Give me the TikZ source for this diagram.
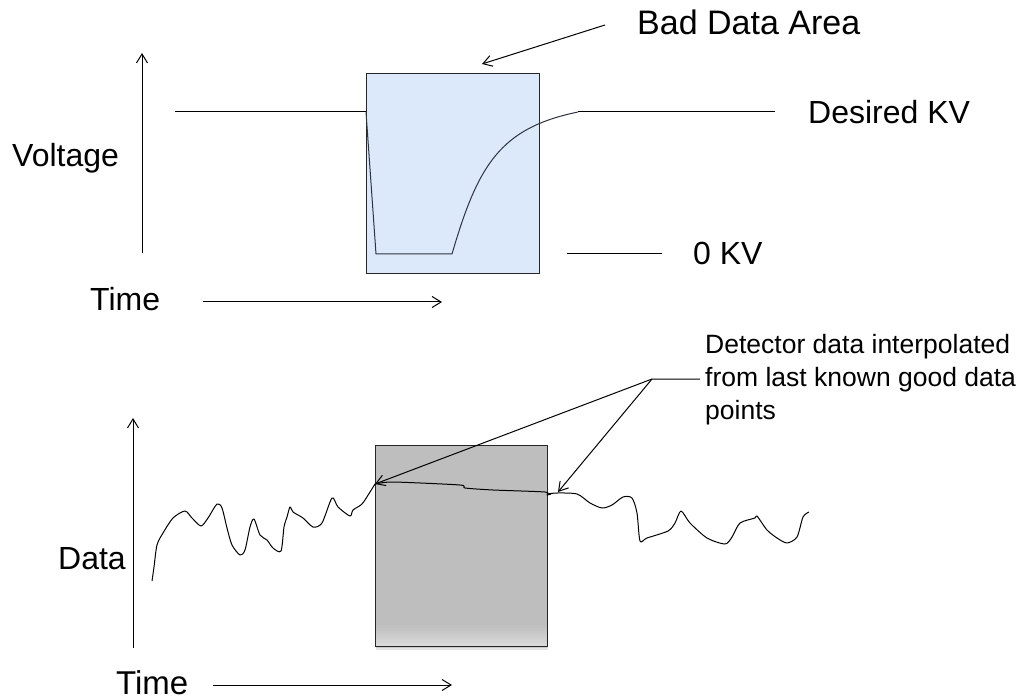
\documentclass[tikz,border=0pt]{standalone}
\usepackage{fontspec}
\setmainfont{Liberation Sans}
\usetikzlibrary{arrows.meta}
\definecolor{badblue}{RGB}{220,233,251}
\definecolor{badgray}{RGB}{190,190,190}
\definecolor{curvecol}{RGB}{45,52,64}
\tikzset{
  ln/.style={line width=1pt,black},
  arr/.style={ln,-{Straight Barb[length=9pt,width=11pt,line width=1pt]}},
  lbl/.style={inner sep=0pt,anchor=base west,font=\fontsize{32}{38}\selectfont},
  boxstyle/.style={draw=black!85,line width=1pt,inner sep=0pt,anchor=north west},
}
\begin{document}
\begin{tikzpicture}[x=1pt,y=-1pt]
\useasboundingbox (0,0) rectangle (1027,700);
% ---------------- top panel ----------------
\node[boxstyle,fill=badblue,minimum width=173pt,minimum height=200pt] (bad) at (366,73) {};
\node[lbl] (volt) at (12,167) {Voltage};
\node[lbl] (time1) at (90,311) {Time};
\node[lbl,font=\fontsize{34}{40}\selectfont] (badlbl) at (637,35) {Bad Data Area};
\node[lbl] (desired) at (808,124) {Desired KV};
\node[lbl] (zero) at (693,265) {0 KV};
\coordinate (yb1) at (142,253);
\coordinate (yt1) at (142,53);
\draw[arr] (yb1) -- (yt1);
\coordinate (tl1) at (203,302);
\coordinate (tr1) at (442,302);
\draw[arr] (tl1) -- (tr1);
\coordinate (badfrom) at (605,25);
\coordinate (badtip) at (482,64);
\draw[arr] (badfrom) -- (badtip);
% voltage trace
\coordinate (v0) at (175,112);
\coordinate (v1) at (366,112);
\coordinate (v2) at (376,254);
\coordinate (v3) at (452,254);
\coordinate (v4) at (578,112);
\coordinate (v5) at (775,112);
\draw[ln] (v0) -- (v1);
\draw[line width=1pt,curvecol,line join=round] (v1) -- (v2) -- (v3)
  .. controls (478,165) and (500,128) .. (v4);
\draw[ln] (v4) -- (v5);
\coordinate (z0) at (567,254);
\coordinate (z1) at (662,254);
\draw[ln] (z0) -- (z1);
% ---------------- bottom panel ----------------
\node[inner sep=0pt,anchor=north west,minimum width=172pt,minimum height=201pt] (gray) at (375,445) {};
\fill[black,opacity=0.10] ([xshift=1pt]gray.south west) rectangle ([xshift=1pt,yshift=-4pt]gray.south east);
\fill[black,opacity=0.12] ([xshift=1pt]gray.south west) rectangle ([yshift=-2pt]gray.south east);
\fill[badgray] (gray.north west) rectangle (gray.south east);
\shade[top color=badgray,bottom color=black!14] ([yshift=22pt]gray.south west) rectangle (gray.south east);
\draw[draw=black!85,line width=1pt] (gray.north west) rectangle (gray.south east);
\node[lbl] (data) at (58,569) {Data};
\node[lbl,font=\fontsize{33}{38}\selectfont] (time2) at (116,694) {Time};
\coordinate (yb2) at (133,648);
\coordinate (yt2) at (133,418);
\draw[arr] (yb2) -- (yt2);
\coordinate (tl2) at (213,685);
\coordinate (tr2) at (452,685);
\draw[arr] (tl2) -- (tr2);
% data trace
\draw[ln,line join=round] plot[smooth,tension=0.45] coordinates {
 (152,581) (154,567) (157,545) (163,533) (173,518) (185,511) (192,518) (201,526)
 (208,518) (217,504) (222,508) (227,528) (232,545) (240,555) (245,550) (250,527)
 (254,519) (260,535) (267,540) (273,548) (281,551) (284,527) (287,517) (290,507)
 (293,512) (303,518) (313,527) (322,523) (332,498) (338,507) (350,516) (353,510)
 (362,504) (370,492) (375,484)};
\draw[ln,line join=round] plot[smooth,tension=0.4] coordinates {
 (375,484) (393,482) (460,485) (465,488) (493,490) (545,492) (547,495) (551,494)};
\draw[ln,line join=round] plot[smooth,tension=0.45] coordinates {
 (547,494) (557,493) (577,494) (590,503) (602,508) (612,505) (623,497) (632,498)
 (637,513) (640,541) (647,538) (668,531) (675,523) (681,511) (690,523) (707,538)
 (725,544) (732,537) (740,523) (755,518) (757,516) (767,530) (777,538) (787,543)
 (797,537) (803,517) (809,512)};
% callout
\node[inner sep=0pt,anchor=north west,align=left,
      font=\fontsize{26.5}{33}\selectfont] (det) at (705,334)
  {Detector data interpolated\\from last known good data\\points};
\coordinate (lead) at (700,379);
\coordinate (hub) at (652,379);
\coordinate (tipL) at (375,484);
\coordinate (tipR) at (558,492);
\draw[arr] (lead) -- (hub) -- (tipL);
\draw[arr] (hub) -- (tipR);
\end{tikzpicture}
\end{document}
